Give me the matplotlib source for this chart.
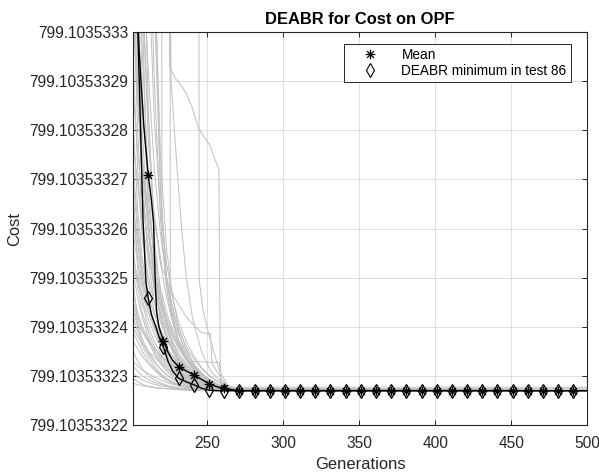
import numpy as np
import matplotlib.pyplot as plt
from matplotlib.path import Path
from matplotlib.lines import Line2D

plt.rcParams['font.family'] = ['Liberation Sans', 'DejaVu Sans']

# cost values are given in units of 1e-8 above this base value
base_cost = 799.10353322
cost_unit = 1e-8

# generation grid shared by most test runs
run_gens = [201, 204, 207, 211, 215, 219, 223, 227, 231, 236, 241, 246, 251, 256, 261, 266, 272, 500]
runs = [
    [30, 14, 8.5, 4.2, 2.9, 2.2, 1.8, 1.5, 1.25, 1.05, 0.92, 0.84, 0.78, 0.74, 0.72, 0.71, 0.70, 0.70],
    [22, 9.5, 5.1, 3.3, 2.5, 1.9, 1.55, 1.3, 1.1, 0.95, 0.86, 0.80, 0.76, 0.73, 0.71, 0.70, 0.70, 0.70],
    [6.2, 4.4, 3.4, 2.6, 2.0, 1.6, 1.35, 1.15, 1.0, 0.9, 0.82, 0.77, 0.74, 0.72, 0.71, 0.70, 0.70, 0.70],
    [3.1, 2.6, 2.2, 1.8, 1.5, 1.3, 1.15, 1.02, 0.93, 0.85, 0.80, 0.76, 0.73, 0.72, 0.71, 0.70, 0.70, 0.70],
    [2.2, 1.9, 1.6, 1.4, 1.2, 1.05, 0.95, 0.88, 0.82, 0.78, 0.75, 0.73, 0.72, 0.71, 0.70, 0.70, 0.70, 0.70],
    [1.5, 1.3, 1.15, 1.0, 0.92, 0.86, 0.81, 0.78, 0.76, 0.74, 0.73, 0.72, 0.71, 0.70, 0.70, 0.70, 0.70, 0.70],
    [0.95, 0.88, 0.83, 0.79, 0.77, 0.75, 0.74, 0.73, 0.72, 0.71, 0.71, 0.70, 0.70, 0.70, 0.70, 0.70, 0.70, 0.70],
    [12, 7.0, 4.8, 3.6, 2.7, 2.3, 2.0, 1.7, 1.45, 1.2, 1.0, 0.88, 0.80, 0.75, 0.72, 0.71, 0.70, 0.70],
    [4.5, 3.7, 3.0, 2.4, 2.1, 1.8, 1.6, 1.4, 1.2, 1.05, 0.95, 0.87, 0.81, 0.76, 0.73, 0.71, 0.70, 0.70],
    [9.0, 6.0, 4.0, 2.9, 2.3, 1.85, 1.5, 1.28, 1.12, 1.0, 0.9, 0.83, 0.78, 0.74, 0.72, 0.71, 0.70, 0.70],
    [40, 20, 11, 6.5, 3.8, 2.7, 2.1, 1.7, 1.45, 1.25, 1.08, 0.95, 0.85, 0.78, 0.74, 0.72, 0.70, 0.70],
    [2.7, 2.3, 2.0, 1.75, 1.55, 1.4, 1.25, 1.12, 1.02, 0.92, 0.85, 0.80, 0.76, 0.73, 0.72, 0.71, 0.70, 0.70],
    [3.6, 2.8, 2.3, 1.9, 1.6, 1.35, 1.2, 1.08, 0.98, 0.9, 0.84, 0.79, 0.75, 0.73, 0.72, 0.71, 0.70, 0.70],
    [1.9, 1.7, 1.5, 1.3, 1.15, 1.02, 0.92, 0.85, 0.80, 0.77, 0.75, 0.73, 0.72, 0.71, 0.70, 0.70, 0.70, 0.70],
    [7.5, 5.2, 3.8, 3.0, 2.5, 2.1, 1.8, 1.55, 1.35, 1.15, 1.0, 0.9, 0.82, 0.77, 0.74, 0.72, 0.70, 0.70],
    [18, 11, 6.8, 4.6, 3.4, 2.6, 2.05, 1.65, 1.38, 1.15, 0.98, 0.87, 0.80, 0.76, 0.73, 0.71, 0.70, 0.70],
    [5.3, 4.1, 3.2, 2.5, 2.1, 1.75, 1.45, 1.22, 1.05, 0.92, 0.84, 0.78, 0.75, 0.73, 0.72, 0.71, 0.70, 0.70],
    [2.5, 2.2, 1.95, 1.7, 1.45, 1.25, 1.1, 0.98, 0.9, 0.84, 0.80, 0.77, 0.74, 0.72, 0.71, 0.70, 0.70, 0.70],
    [1.2, 1.1, 1.0, 0.93, 0.87, 0.83, 0.80, 0.77, 0.75, 0.74, 0.73, 0.72, 0.71, 0.70, 0.70, 0.70, 0.70, 0.70],
    [26, 13, 7.6, 5.0, 3.2, 2.4, 1.95, 1.6, 1.35, 1.12, 0.96, 0.86, 0.79, 0.75, 0.72, 0.71, 0.70, 0.70],
    [3.9, 3.3, 2.8, 2.3, 1.95, 1.7, 1.5, 1.32, 1.17, 1.03, 0.92, 0.85, 0.79, 0.75, 0.73, 0.71, 0.70, 0.70],
    [14, 8.8, 6.0, 4.0, 3.1, 2.5, 2.15, 1.85, 1.6, 1.35, 1.15, 1.0, 0.88, 0.80, 0.75, 0.72, 0.70, 0.70],
    [4.8, 3.2, 2.5, 2.0, 1.7, 1.45, 1.3, 1.15, 1.05, 0.95, 0.88, 0.82, 0.78, 0.75, 0.73, 0.71, 0.70, 0.70],
    [2.9, 2.1, 1.75, 1.5, 1.3, 1.15, 1.03, 0.94, 0.87, 0.81, 0.77, 0.75, 0.73, 0.72, 0.71, 0.70, 0.70, 0.70],
    [35, 17, 9.2, 5.8, 4.2, 3.3, 2.6, 2.1, 1.7, 1.4, 1.18, 1.02, 0.9, 0.81, 0.76, 0.73, 0.71, 0.70],
    [6.8, 5.6, 4.6, 3.6, 2.8, 2.2, 1.8, 1.5, 1.28, 1.1, 0.97, 0.88, 0.81, 0.77, 0.74, 0.72, 0.70, 0.70],
    [1.7, 1.55, 1.4, 1.25, 1.12, 1.0, 0.92, 0.86, 0.82, 0.78, 0.76, 0.74, 0.73, 0.72, 0.71, 0.70, 0.70, 0.70],
    [10.5, 7.8, 5.5, 3.9, 2.9, 2.25, 1.85, 1.55, 1.32, 1.12, 0.98, 0.88, 0.80, 0.76, 0.73, 0.72, 0.71, 0.70],
    [3.4, 3.0, 2.65, 2.3, 2.0, 1.75, 1.55, 1.4, 1.26, 1.12, 1.0, 0.9, 0.83, 0.78, 0.75, 0.73, 0.71, 0.70],
    [2.0, 1.8, 1.65, 1.5, 1.38, 1.26, 1.15, 1.05, 0.97, 0.9, 0.84, 0.80, 0.77, 0.74, 0.72, 0.71, 0.70, 0.70],
    [24, 15, 10, 7.2, 5.2, 3.9, 3.0, 2.4, 1.95, 1.6, 1.35, 1.15, 1.0, 0.9, 0.82, 0.76, 0.72, 0.70],
    [8.3, 6.6, 5.4, 4.3, 3.5, 2.8, 2.3, 1.95, 1.65, 1.4, 1.2, 1.05, 0.93, 0.84, 0.78, 0.74, 0.71, 0.70],
    [5.8, 4.9, 4.1, 3.4, 2.9, 2.45, 2.1, 1.8, 1.55, 1.32, 1.15, 1.01, 0.9, 0.82, 0.77, 0.74, 0.71, 0.70],
    [2.4, 2.1, 1.9, 1.7, 1.55, 1.42, 1.3, 1.2, 1.1, 1.0, 0.92, 0.86, 0.82, 0.80, 0.78, 0.77, 0.77, 0.77],
    [4.2, 3.5, 2.9, 2.45, 2.1, 1.8, 1.58, 1.4, 1.24, 1.1, 0.98, 0.89, 0.82, 0.78, 0.76, 0.75, 0.74, 0.74],
    [50, 28, 16, 9.5, 6.2, 4.4, 3.3, 2.6, 2.1, 1.7, 1.4, 1.18, 1.02, 0.9, 0.80, 0.75, 0.71, 0.70],
    [1.3, 1.2, 1.12, 1.05, 0.98, 0.92, 0.87, 0.83, 0.80, 0.77, 0.75, 0.73, 0.72, 0.71, 0.70, 0.70, 0.70, 0.70],
    [0.85, 0.82, 0.80, 0.78, 0.76, 0.75, 0.74, 0.73, 0.72, 0.71, 0.70, 0.70, 0.70, 0.70, 0.70, 0.70, 0.70, 0.70],
    [80, 50, 30, 18, 9.5, 5.5, 3.6, 2.6, 2.0, 1.55, 1.25, 1.05, 0.92, 0.82, 0.76, 0.73, 0.71, 0.70],
    [60, 40, 25, 14, 8.6, 4.8, 3.0, 2.2, 1.7, 1.35, 1.12, 0.96, 0.85, 0.78, 0.74, 0.72, 0.70, 0.70],
    [45, 30, 18, 11, 7.0, 4.2, 2.8, 2.1, 1.65, 1.32, 1.1, 0.95, 0.85, 0.78, 0.74, 0.71, 0.70, 0.70],
    [2.35, 2.0, 1.7, 1.45, 1.28, 1.14, 1.02, 0.93, 0.86, 0.81, 0.78, 0.75, 0.73, 0.72, 0.71, 0.70, 0.70, 0.70],
    [3.2, 2.9, 2.55, 2.15, 1.85, 1.6, 1.4, 1.24, 1.1, 0.98, 0.89, 0.82, 0.77, 0.74, 0.72, 0.71, 0.70, 0.70],
    [1.05, 0.98, 0.92, 0.87, 0.83, 0.80, 0.78, 0.76, 0.74, 0.73, 0.72, 0.71, 0.70, 0.70, 0.70, 0.70, 0.70, 0.70],
    [5.0, 3.9, 3.1, 2.6, 2.25, 1.95, 1.72, 1.52, 1.36, 1.2, 1.07, 0.96, 0.87, 0.80, 0.76, 0.73, 0.71, 0.70],
]

# slower runs, each with its own generation points
late_runs = [
    ([201, 214, 216, 219, 223, 228, 234, 240, 248, 256, 264, 500],
     [60, 30, 8.5, 4.8, 3.0, 2.2, 1.6, 1.2, 0.95, 0.80, 0.72, 0.70]),
    ([201, 219, 220, 224, 229, 235, 242, 250, 258, 266, 500],
     [80, 40, 3.8, 2.6, 2.0, 1.55, 1.2, 0.95, 0.80, 0.72, 0.70]),
    ([201, 221, 226, 230, 233, 236, 240, 246, 252, 260, 268, 500],
     [90, 30, 7.0, 5.2, 4.0, 3.0, 2.2, 1.5, 1.1, 0.85, 0.73, 0.70]),
    ([201, 224.5, 225.5, 230, 236, 244, 252, 262, 500],
     [90, 50, 2.4, 1.8, 1.4, 1.1, 0.9, 0.74, 0.70]),
    ([201, 243.5, 244.5, 247, 250, 254, 258, 263, 270, 500],
     [90, 60, 2.95, 2.35, 1.95, 1.5, 1.1, 0.82, 0.72, 0.70]),
    ([201, 222, 225, 229, 233, 236, 239.5, 244, 248, 251.5, 255, 257.5, 258.5, 262, 267, 500],
     [90, 40, 7.3, 7.05, 6.9, 6.75, 6.5, 6.05, 5.85, 5.7, 5.4, 5.2, 0.88, 0.80, 0.73, 0.70]),
    ([201, 206, 211, 216, 222, 228, 233, 237, 258, 259, 266, 500],
     [9.0, 5.5, 4.0, 3.0, 2.3, 1.8, 1.5, 1.3, 1.27, 0.86, 0.72, 0.70]),
    ([201, 208, 214, 220, 228, 236, 242, 246, 252, 253, 258, 262, 268, 500],
     [25, 8.0, 4.5, 3.2, 2.6, 2.2, 2.0, 1.88, 1.86, 1.25, 1.0, 0.82, 0.72, 0.70]),
]

tail_gens = [281, 291, 301, 311, 321, 331, 341, 351, 361, 371, 381, 391,
             401, 411, 421, 431, 441, 451, 461, 471, 481, 491, 500]

mean_gens = [201, 205, 208, 211, 213, 214.5, 215.5, 216.5, 218, 221, 224, 227,
             231, 236, 241, 246, 251, 256, 261, 266, 271] + tail_gens
mean_vals = [10.5, 7.6, 6.1, 5.08, 4.6, 4.1, 3.0, 2.3, 2.0, 1.72, 1.48, 1.32,
             1.19, 1.1, 1.02, 0.93, 0.84, 0.78, 0.75, 0.72, 0.70,
             0.70, 0.70, 0.70, 0.70, 0.70, 0.70, 0.70, 0.70, 0.70, 0.70, 0.70, 0.70,
             0.70, 0.70, 0.70, 0.70, 0.70, 0.70, 0.70, 0.70, 0.70, 0.70, 0.70]

best_gens = [201, 204, 207.5, 209.5, 211, 213, 216, 218, 221, 224, 227, 231,
             236, 241, 246, 251, 256, 261, 271] + tail_gens
best_vals = [14, 8.2, 4.2, 2.9, 2.58, 2.25, 2.0, 1.8, 1.58, 1.3, 1.1, 0.95,
             0.88, 0.82, 0.75, 0.71, 0.70, 0.70, 0.70,
             0.70, 0.70, 0.70, 0.70, 0.70, 0.70, 0.70, 0.70, 0.70, 0.70, 0.70, 0.70,
             0.70, 0.70, 0.70, 0.70, 0.70, 0.70, 0.70, 0.70, 0.70, 0.70, 0.70]

y_ticks = [0, 1, 2, 3, 4, 5, 6, 7, 8]


def to_cost(v):
    return base_cost + np.asarray(v, dtype=float) * cost_unit


# MATLAB style asterisk marker (+ and x together)
d = 0.7071
star = Path([(-1, 0), (1, 0), (0, -1), (0, 1), (-d, -d), (d, d), (-d, d), (d, -d)],
            [Path.MOVETO, Path.LINETO] * 4)

fig = plt.figure(figsize=(5.99, 4.76), dpi=100)
ax = fig.add_axes([0.2222, 0.1071, 0.7578, 0.8256])

grey = '#c0c0c0'
for vals in runs:
    ax.plot(run_gens, to_cost(vals), color=grey, lw=0.7, zorder=2)
for g, vals in late_runs:
    ax.plot(g, to_cost(vals), color=grey, lw=0.7, zorder=2)

# lines, then markers every 10 generations
bg = np.array(best_gens)
mg = np.array(mean_gens)
ax.plot(bg, to_cost(best_vals), color='k', lw=1.0, zorder=3)
ax.plot(mg, to_cost(mean_vals), color='k', lw=1.0, zorder=4)
bm = (bg - 201) % 10 == 0
mm = (mg - 201) % 10 == 0
ax.plot(bg[bm], to_cost(best_vals)[bm], ls='none', marker='d', ms=7,
        mfc='none', mec='k', mew=0.9, zorder=5)
ax.plot(mg[mm], to_cost(mean_vals)[mm], ls='none', marker=star, ms=7,
        mfc='none', mec='k', mew=1.0, zorder=6)

ax.set_xlim(201, 500)
ax.set_ylim(to_cost(0), to_cost(8))
ax.set_xticks([250, 300, 350, 400, 450, 500])
ax.set_yticks(to_cost(y_ticks))
ax.set_yticklabels([('%.8f' % c).rstrip('0').rstrip('.') for c in to_cost(y_ticks)])

ax.grid(True, color='#dedede', lw=0.7)
ax.set_axisbelow(True)
ax.tick_params(direction='in', length=3.5, width=0.7, top=True, right=True,
               labelsize=11.2, colors='#262626')
ax.tick_params(axis='x', pad=8)
ax.tick_params(axis='y', pad=3.5)
for s in ax.spines.values():
    s.set_color('#262626')
    s.set_linewidth(0.8)

ax.set_title('DEABR for Cost on OPF', fontsize=11.9, fontweight='bold', pad=6)
ax.set_xlabel('Generations', fontsize=11.9, color='#262626', labelpad=4)
ax.set_ylabel('Cost', fontsize=11.9, color='#262626', labelpad=5)

handles = [
    Line2D([], [], ls='none', marker=star, ms=7, mfc='none', mec='k', mew=0.9),
    Line2D([], [], ls='none', marker='d', ms=7, mfc='none', mec='k', mew=0.8),
]
leg = ax.legend(handles, ['Mean', 'DEABR minimum in test 86'], loc='upper right',
                bbox_to_anchor=(0.964, 0.970), borderaxespad=0, fontsize=9.8,
                fancybox=False, framealpha=1, edgecolor='#262626',
                borderpad=0.3, labelspacing=0.15, handlelength=3.2, handletextpad=0.7)
leg.get_frame().set_linewidth(0.7)

fig.savefig('out.png', dpi=100)
